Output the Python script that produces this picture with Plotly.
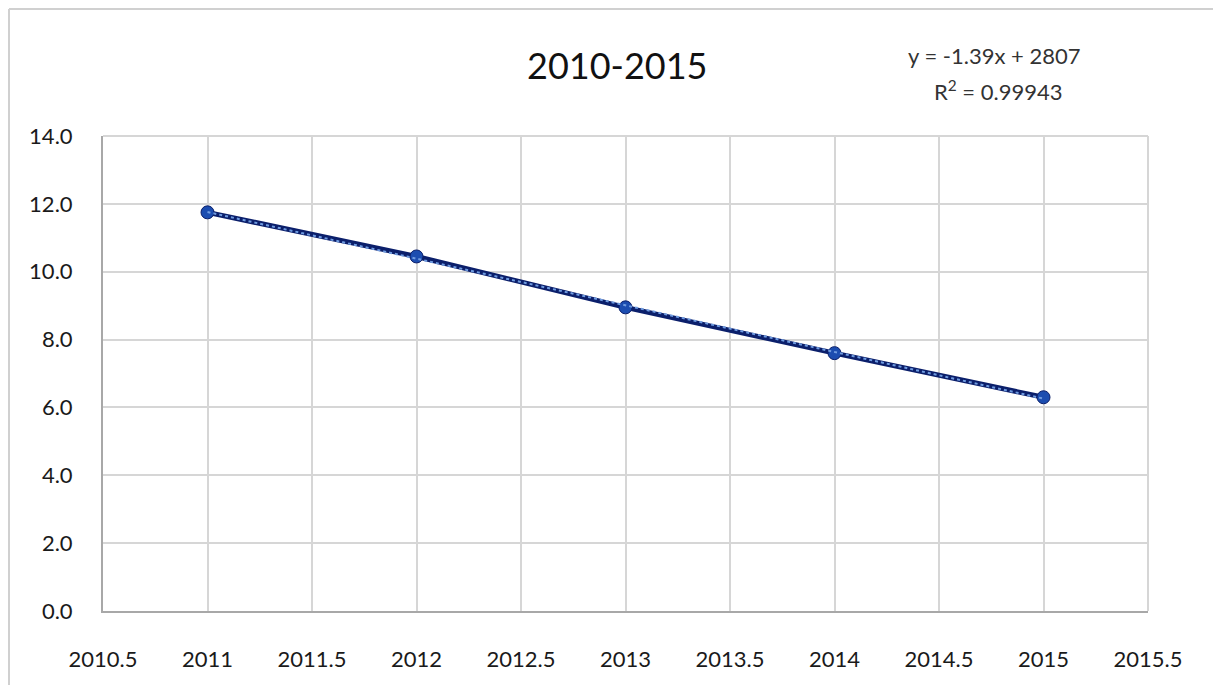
import numpy as np
import plotly.graph_objects as go

years = [2011, 2012, 2013, 2014, 2015]
values = [11.75, 10.45, 8.95, 7.6, 6.3]
title_text = "2010-2015"
eq_text = "y = -1.39x + 2807"
r2_text = "R<sup>2</sup> = 0.99943"
x_ticks = [2010.5, 2011, 2011.5, 2012, 2012.5, 2013, 2013.5, 2014, 2014.5, 2015, 2015.5]
y_ticks = [0, 2, 4, 6, 8, 10, 12, 14]

OFF = 8  # page body margin
W, H = 1221 - OFF, 685 - OFF
L, R, T, B = 103 - OFF, 1148 - OFF, 136 - OFF, 611 - OFF

coef = np.polyfit(years, values, 1)
trend_x = [years[0], years[-1]]
trend_y = [coef[0] * x + coef[1] for x in trend_x]

fig = go.Figure()
fig.add_trace(go.Scatter(
    x=years, y=values, mode="lines+markers",
    line=dict(color="#0b1f6b", width=5),
    marker=dict(color="#1c4db0", size=13, line=dict(color="#0b1f6b", width=1)),
    showlegend=False, hoverinfo="skip"))
fig.add_trace(go.Scatter(
    x=trend_x, y=trend_y, mode="lines",
    line=dict(color="#6f9be0", width=2, dash="dot"),
    showlegend=False, hoverinfo="skip"))

def px_x(p):
    return (p - OFF - L) / (R - L)

def px_y(p):
    return (B - (p - OFF)) / (B - T)

font_name = "Lato, Open Sans, DejaVu Sans, sans-serif"

fig.update_layout(
    width=W, height=H,
    margin=dict(l=L, r=W - R, t=T, b=H - B, pad=0),
    paper_bgcolor="white", plot_bgcolor="white",
    font=dict(family=font_name, color="#1a1a1a"),
    xaxis=dict(range=[2010.5, 2015.5], tickvals=x_ticks,
               ticktext=[("%g" % v) for v in x_ticks],
               showgrid=True, gridcolor="#d6d6d6", gridwidth=2,
               showline=True, linecolor="#a8a8a8", linewidth=2,
               zeroline=False, ticks="", ticklabelstandoff=28,
               tickfont=dict(size=22, family=font_name, color="#1a1a1a")),
    yaxis=dict(range=[0, 14], tickvals=y_ticks,
               ticktext=["%.1f" % v for v in y_ticks],
               showgrid=True, gridcolor="#d6d6d6", gridwidth=2,
               showline=True, linecolor="#a8a8a8", linewidth=2,
               zeroline=False, ticks="", ticklabelstandoff=24,
               tickfont=dict(size=22, family=font_name, color="#1a1a1a")),
    shapes=[
        dict(type="line", xref="paper", yref="paper",
             x0=px_x(9), x1=px_x(1221 + 5), y0=px_y(9), y1=px_y(9),
             line=dict(color="#d0d0d0", width=2)),
        dict(type="line", xref="paper", yref="paper",
             x0=px_x(9), x1=px_x(9), y0=px_y(9), y1=px_y(685 + 5),
             line=dict(color="#d0d0d0", width=2)),
        dict(type="line", xref="paper", yref="paper",
             x0=1, x1=1, y0=0, y1=1,
             line=dict(color="#d6d6d6", width=2)),
        dict(type="line", xref="paper", yref="paper",
             x0=0, x1=1, y0=1, y1=1,
             line=dict(color="#d6d6d6", width=2)),
    ],
    annotations=[
        dict(text=title_text, xref="paper", yref="paper",
             x=px_x(617), y=px_y(65), xanchor="center", yanchor="middle",
             showarrow=False, font=dict(size=36, family=font_name, color="#111111")),
        dict(text=eq_text, xref="paper", yref="paper",
             x=px_x(994), y=px_y(56), xanchor="center", yanchor="middle",
             showarrow=False, font=dict(size=22, family=font_name, color="#333333")),
        dict(text=r2_text, xref="paper", yref="paper",
             x=px_x(998), y=px_y(90), xanchor="center", yanchor="middle",
             showarrow=False, font=dict(size=22, family=font_name, color="#333333")),
    ],
)

fig.write_html("out.html")
